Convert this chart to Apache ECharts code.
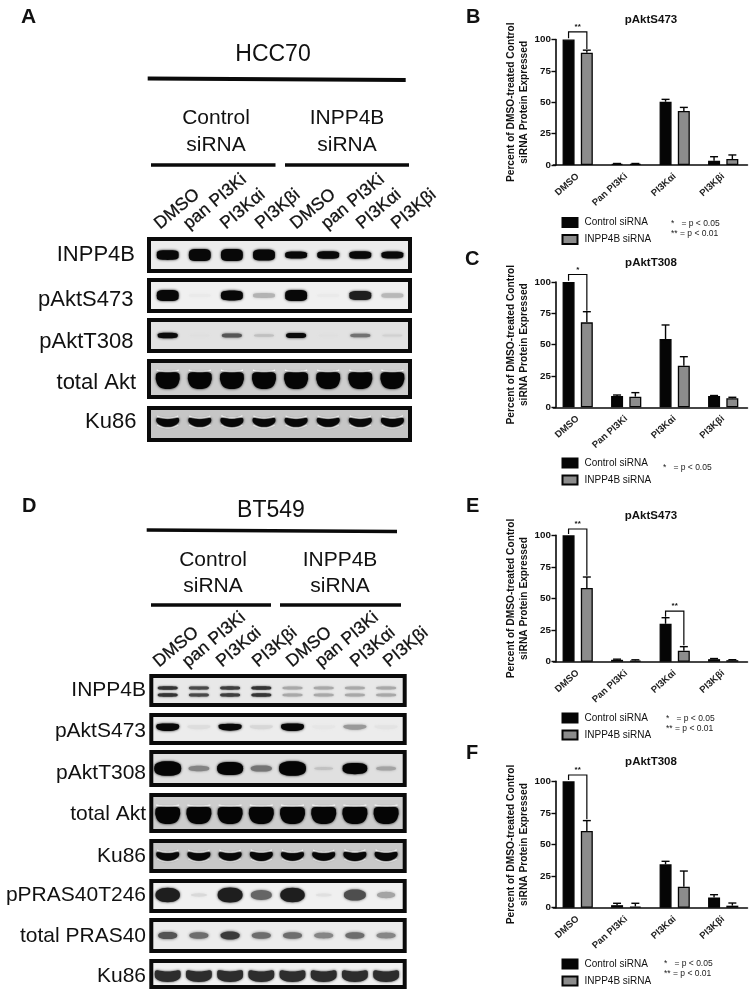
<!DOCTYPE html>
<html><head><meta charset="utf-8">
<style>html,body{margin:0;padding:0;background:#fff}#c{width:754px;height:998px}</style>
<script src="https://cdn.jsdelivr.net/npm/echarts@6/dist/echarts.min.js"></script>
</head><body><div id="c"></div>
<script>
// ---------- bar-chart data (percent of DMSO-treated control) ----------
const categories = ['DMSO', 'Pan PI3Ki', 'PI3K\u03b1i', 'PI3K\u03b2i'];
const seriesNames = ['Control siRNA', 'INPP4B siRNA'];
const bControl = [100, 1, 50.4, 3.4];
const bControlTop = [100, 1.2, 52.3, 6.6];
const bInpp4b = [89.4, 1, 43, 4.8];
const bInpp4bTop = [91.5, 1.2, 45.9, 8];
const cControl = [100, 9, 54.5, 9];
const cControlTop = [100, 9.8, 65.7, 9.4];
const cInpp4b = [67.8, 8.5, 33.2, 7.2];
const cInpp4bTop = [76.3, 11.7, 40.4, 8];
const eControl = [100, 1.5, 30, 2];
const eControlTop = [100, 2, 34.8, 2.5];
const eInpp4b = [58.3, 1, 8.7, 1.2];
const eInpp4bTop = [67, 1.5, 11.9, 1.6];
const fControl = [100, 2, 34.3, 8];
const fControlTop = [100, 3.5, 36.7, 10.3];
const fInpp4b = [60.7, 1, 16.6, 1.6];
const fInpp4bTop = [68.9, 3.5, 29, 3.7];
// significance brackets: category, top value, left foot, right foot, stars
const bBrackets = [[0, 106, 101, 92.5, '**']];
const cBrackets = [[0, 106, 101, 77, '*']];
const eBrackets = [[0, 105, 101, 68, '**'], [2, 40, 35.5, 13, '**']];
const fBrackets = [[0, 105, 101, 70, '**']];

// ---------- blot lanes and band intensities (0..1) ----------
const laneLabels = ['DMSO', 'pan PI3Ki', 'PI3K\u03b1i', 'PI3K\u03b2i', 'DMSO', 'pan PI3Ki', 'PI3K\u03b1i', 'PI3K\u03b2i'];
const hccInpp4b = [.75, 1, 1, .9, .45, .5, .5, .45];
const hccS473 = [1, .02, .85, .22, 1, .02, .75, .2];
const hccT308 = [.85, .01, .5, .12, .8, .01, .4, .06];
const hccAkt = [1, 1, 1, 1, 1, 1, 1, 1];
const hccKu86 = [.9, .9, 1, .9, .9, .9, .9, 1];
const btInpp4b = [.85, .75, .8, .85, .3, .3, .3, .3];
const btS473 = [1, .05, .8, .07, 1, .02, .28, .03];
const btT308 = [1, .3, .9, .35, 1, .1, .75, .2];
const btAkt = [1, 1, 1, 1, 1, 1, 1, 1];
const btKu86a = [.85, .85, .85, .95, .85, .85, 1, .95];
const btPras = [.95, .1, 1, .6, .95, .07, .7, .33];
const btTotalPras = [.6, .5, .7, .5, .5, .4, .5, .4];
const btKu86b = [.9, .9, 1, .9, .9, .9, .9, .9];

// ---------- layout and styling ----------
const FONT = '"Liberation Sans", Arial, sans-serif';
const grids = [], xAxes = [], yAxes = [], series = [], graphics = [], legends = [];

function txt(x, y, text, size, o) {
  o = o || {};
  graphics.push({ type: 'text', x, y, rotation: o.rot || 0, silent: true, style: {
    text, fontSize: size, fontFamily: FONT, fontWeight: o.bold ? 'bold' : 'normal',
    fill: o.fill || '#111', align: o.align || 'center', verticalAlign: o.va || 'middle',
    stroke: o.stroke ? '#111' : null, lineWidth: o.stroke || 0 } });
}
function rule(x1, y1, x2, y2, w) {
  graphics.push({ type: 'line', silent: true, shape: { x1, y1, x2, y2 }, style: { stroke: '#0a0a0a', lineWidth: w } });
}

// custom renderer of one blot band
function bandRenderer(st) {
  const n = st.n || 3.5;
  const taper = st.taper || 1;
  return function (params, api) {
    const p = api.coord([api.value(0), 0]);
    const v = api.value(2);
    if (v <= 0) return null;
    const cx = p[0], cy = p[1] + (st.dy || 0);
    const t = st.t0 + st.t1 * v;
    const w = st.w0 + (st.w1 || 0) * v;
    const k = Math.min(1, v * (st.k || 1));
    const g = Math.round(st.bg + (st.dark - st.bg) * k);
    const col = `rgb(${g},${g},${g})`;
    const children = [];
    const STEPS = 14;
    // outline of a rounded band: half thickness follows a superellipse, the centre line sags
    const outline = (o) => {
      const top = [], bot = [];
      for (let i = 0; i <= STEPS; i++) {
        const u = Math.sin((-1 + 2 * i / STEPS) * Math.PI / 2);
        const f = Math.pow(1 - Math.pow(Math.abs(u), n), 1 / n);
        const h = t / 2 * f;
        const sq = 1 - u * u;
        top.push([cx + u * w / 2, cy + o - h + (st.sagTop || 0) * sq]);
        bot.push([cx + u * w / 2 * (1 - (1 - taper) * f), cy + o + h + (st.sagBot || 0) * sq]);
      }
      return top.concat(bot.reverse());
    };
    const arc = (o, sag, gap) => {
      const pts = [];
      for (let i = 0; i <= STEPS; i++) {
        const u = -.92 + 1.84 * i / STEPS;
        pts.push([cx + u * w / 2, cy + o + gap + sag * (1 - u * u)]);
      }
      return pts;
    };
    (st.doublet ? [-3.5, 3.5] : [0]).forEach(o => {
      if (st.halo) children.push({ type: 'polyline', silent: true, shape: { points: arc(o, st.sagTop || 0, -t / 2 - 1) },
        style: { stroke: '#fff', lineWidth: 1.3, fill: null } });
      if (st.haloBot) children.push({ type: 'polyline', silent: true, shape: { points: arc(o, st.sagBot || 0, t / 2 + 1) },
        style: { stroke: '#fff', lineWidth: 1.2, fill: null } });
      children.push({ type: 'polygon', shape: { points: outline(o) },
        style: { fill: col, shadowBlur: st.blur == null ? 2.5 : st.blur, shadowColor: col } });
    });
    return { type: 'group', children };
  };
}

function blotRow(name, values, top, bottom, left, right, lane0, laneStep, labelSize, labelRight, labelY, st) {
  const gi = grids.length;
  const bw = 4;
  const L = left + bw / 2, R = right - bw / 2, T = top + bw / 2, B = bottom - bw / 2;
  const bgc = `rgb(${st.bg},${st.bg},${st.bg})`;
  grids.push({ show: true, left: L, top: T, width: R - L, height: B - T, backgroundColor: bgc, borderColor: '#0a0a0a', borderWidth: bw, z: 1 });
  xAxes.push({ gridIndex: gi, type: 'value', show: false, min: (L - lane0) / laneStep, max: (R - lane0) / laneStep, splitLine: { show: false } });
  yAxes.push({ gridIndex: gi, type: 'category', data: [name], show: false });
  series.push({ type: 'custom', name: 'blot ' + name, xAxisIndex: gi, yAxisIndex: gi, silent: true, clip: true, z: 3,
    encode: { x: 0, y: 1 }, data: values.map((v, i) => [i, 0, v]), renderItem: bandRenderer(st) });
  txt(labelRight, labelY, name, labelSize, { align: 'right' });
}

function barPanel(cfg) {
  const gi = grids.length;
  const step = 48.5;
  grids.push({ left: cfg.cx0 - step / 2, width: step * 4, top: cfg.top, height: cfg.zero - cfg.top });
  xAxes.push({ gridIndex: gi, type: 'category', data: categories,
    axisLine: { lineStyle: { color: '#0a0a0a', width: 1.6 } }, axisTick: { alignWithLabel: true, length: 4.5, lineStyle: { color: '#0a0a0a', width: 1.4 } },
    axisLabel: { rotate: 42, fontSize: 9.5, fontWeight: 'bold', fontFamily: FONT, color: '#222', margin: 10, interval: 0 } });
  yAxes.push({ gridIndex: gi, type: 'value', min: 0, max: 100, interval: 25, offset: -2.5,
    name: 'Percent of DMSO-treated Control\nsiRNA Protein Expressed', nameLocation: 'middle', nameGap: 24,
    nameTextStyle: { fontSize: 10.2, fontWeight: 'bold', fontFamily: FONT, color: '#111', lineHeight: 13 },
    splitLine: { show: false },
    axisLine: { show: true, lineStyle: { color: '#0a0a0a', width: 1.6 } }, axisTick: { show: true, length: 4.5, lineStyle: { color: '#0a0a0a', width: 1.4 } },
    axisLabel: { fontSize: 9.8, fontWeight: 'bold', fontFamily: FONT, color: '#111', margin: 5 } });
  const common = { type: 'bar', xAxisIndex: gi, yAxisIndex: gi, barWidth: 12, barGap: '52%', silent: true };
  series.push(Object.assign({}, common, { name: seriesNames[0], data: cfg.control, itemStyle: { color: '#050505', borderColor: '#050505', borderWidth: 1.3 } }));
  series.push(Object.assign({}, common, { name: seriesNames[1], data: cfg.inpp, itemStyle: { color: '#8c8c8c', borderColor: '#050505', borderWidth: 1.3 } }));
  const OFF = 9.15;
  const errRender = sign => (params, api) => {
    const base = api.coord([api.value(0), api.value(1)]);
    const tip = api.coord([api.value(0), api.value(2)]);
    const x = base[0] + sign * OFF;
    if (api.value(2) <= api.value(1)) return null;
    return { type: 'group', children: [
      { type: 'line', shape: { x1: x, y1: base[1], x2: x, y2: tip[1] }, style: { stroke: '#050505', lineWidth: 1.4 } },
      { type: 'line', shape: { x1: x - 4, y1: tip[1], x2: x + 4, y2: tip[1] }, style: { stroke: '#050505', lineWidth: 1.4 } }] };
  };
  [[cfg.control, cfg.controlTop, -1], [cfg.inpp, cfg.inppTop, 1]].forEach(a => {
    series.push({ type: 'custom', name: 'error', xAxisIndex: gi, yAxisIndex: gi, silent: true, z: 4, encode: { x: 0, y: 2 },
      data: a[0].map((v, i) => [i, v, a[1][i]]), renderItem: errRender(a[2]) });
  });
  series.push({ type: 'custom', name: 'significance', xAxisIndex: gi, yAxisIndex: gi, silent: true, z: 5, encode: { x: 0, y: 1 },
    data: cfg.brackets, clip: false,
    renderItem: (params, api) => {
      const c = api.value(0);
      const t = api.coord([c, api.value(1)]), l = api.coord([c, api.value(2)]), r = api.coord([c, api.value(3)]);
      const xl = t[0] - OFF, xr = t[0] + OFF;
      return { type: 'group', children: [
        { type: 'polyline', shape: { points: [[xl, l[1]], [xl, t[1]], [xr, t[1]], [xr, r[1]]] }, style: { stroke: '#050505', lineWidth: 1.2, fill: null } },
        { type: 'text', style: { x: t[0], y: t[1] - 1, text: cfg.brackets[params.dataIndex][4], fontSize: 8, fontWeight: 'bold', fontFamily: FONT, fill: '#111', align: 'center', verticalAlign: 'bottom' } }] };
    } });
  legends.push({ data: seriesNames, orient: 'vertical', left: 561.5, top: cfg.legendTop, icon: 'rect', itemWidth: 15, itemHeight: 9, itemGap: 6, selectedMode: false,
    padding: 0, textStyle: { fontSize: 10, fontFamily: FONT, color: '#111', padding: [0, 0, 0, 2] } });
  txt(651, cfg.titleY, cfg.title, 11.5, { bold: true });
  txt(cfg.letterX, cfg.letterY, cfg.letter, 20, { bold: true, align: 'left' });
  cfg.notes.forEach(n => txt(n[0], n[1], n[2], 8.5, { align: 'left', fill: '#222' }));
}

barPanel({ letter: 'B', letterX: 466, letterY: 17, title: 'pAktS473', titleY: 20, cx0: 577.7, top: 39.5, zero: 165, legendTop: 217,
  control: bControl, controlTop: bControlTop, inpp: bInpp4b, inppTop: bInpp4bTop, brackets: bBrackets,
  notes: [[671, 224, '*   = p < 0.05'], [671, 234, '** = p < 0.01']] });
barPanel({ letter: 'C', letterX: 465, letterY: 259, title: 'pAktT308', titleY: 263, cx0: 577.7, top: 282, zero: 407.3, legendTop: 457.5,
  control: cControl, controlTop: cControlTop, inpp: cInpp4b, inppTop: cInpp4bTop, brackets: cBrackets,
  notes: [[663, 468, '*   = p < 0.05']] });
barPanel({ letter: 'E', letterX: 466, letterY: 506, title: 'pAktS473', titleY: 516, cx0: 577.7, top: 535.3, zero: 661.7, legendTop: 712.5,
  control: eControl, controlTop: eControlTop, inpp: eInpp4b, inppTop: eInpp4bTop, brackets: eBrackets,
  notes: [[666, 719, '*   = p < 0.05'], [666, 729, '** = p < 0.01']] });
barPanel({ letter: 'F', letterX: 466, letterY: 753, title: 'pAktT308', titleY: 762, cx0: 577.7, top: 781.3, zero: 907.7, legendTop: 958.5,
  control: fControl, controlTop: fControlTop, inpp: fInpp4b, inppTop: fInpp4bTop, brackets: fBrackets,
  notes: [[664, 964, '*   = p < 0.05'], [664, 974, '** = p < 0.01']] });

// Panel A
txt(21, 17, 'A', 21, { bold: true, align: 'left' });
txt(273, 55, 'HCC70', 23);
rule(147.7, 78.5, 405.7, 80, 4);
txt(216, 118, 'Control', 21); txt(216, 145, 'siRNA', 21);
txt(347, 118, 'INPP4B', 21); txt(347, 145, 'siRNA', 21);
rule(151, 165, 275.5, 165, 3.5); rule(285, 165, 409, 165, 3.5);
[157, 186, 223, 258, 293, 324, 359, 394].forEach((x, i) => txt(x, 226, laneLabels[i], 17.5, { rot: 40 * Math.PI / 180, align: 'left', stroke: .3 }));

const A = [147, 412, 167.7, 32.1, 22];
blotRow('INPP4B', hccInpp4b, 237, 273, A[0], A[1], A[2], A[3], A[4], 135, 255, { bg: 236, dark: 8, t0: 3, t1: 9, w0: 22, k: 3 });
blotRow('pAktS473', hccS473, 278, 313, A[0], A[1], A[2], A[3], A[4], 133.5, 300, { bg: 240, dark: 8, t0: 3, t1: 8, w0: 22, k: 1.2 });
blotRow('pAktT308', hccT308, 318, 353, A[0], A[1], A[2], A[3], A[4], 133.5, 341.5, { bg: 226, dark: 10, t0: 2, t1: 4, w0: 20, k: 1.3 });
blotRow('total Akt', hccAkt, 359, 399, A[0], A[1], A[2], A[3], A[4], 136, 383, { bg: 205, dark: 5, t0: 15, t1: 1, w0: 24, sagTop: 1.5, sagBot: 2, halo: true, taper: .85, n: 4 });
blotRow('Ku86', hccKu86, 406, 442, A[0], A[1], A[2], A[3], A[4], 136.5, 421.5, { bg: 198, dark: 8, t0: 4, t1: 3, w0: 23, sagTop: 2.5, sagBot: 3.5, halo: true, haloBot: true, k: 2, dy: -4 });

// Panel D
txt(22, 506, 'D', 20, { bold: true, align: 'left' });
txt(271, 511, 'BT549', 23);
rule(146.7, 530, 397, 531.5, 3.5);
txt(213, 560, 'Control', 21); txt(213, 586, 'siRNA', 21);
txt(340, 560, 'INPP4B', 21); txt(340, 586, 'siRNA', 21);
rule(151, 605, 271, 605, 3.5); rule(280, 605, 401, 605, 3.5);
[156, 185, 219, 255, 289, 318, 353, 386].forEach((x, i) => txt(x, 664, laneLabels[i], 17.5, { rot: 40 * Math.PI / 180, align: 'left', stroke: .3 }));

const D = [149.3, 406.7, 167.7, 31.2, 21, 146];
blotRow('INPP4B', btInpp4b, 674, 707, D[0], D[1], D[2], D[3], D[4], D[5], 690, { bg: 232, dark: 20, t0: 2.5, t1: 1, w0: 20, doublet: true, dy: 1, blur: 2 });
blotRow('pAktS473', btS473, 713, 745, D[0], D[1], D[2], D[3], D[4], D[5], 731.5, { bg: 236, dark: 8, t0: 2.5, t1: 3.5, w0: 23, k: 1.3, dy: -2.5, sagBot: 1.5 });
blotRow('pAktT308', btT308, 750, 787, D[0], D[1], D[2], D[3], D[4], D[5], 773, { bg: 224, dark: 5, t0: 1.5, t1: 13, w0: 18, w1: 9, k: 1.4, n: 2.6 });
blotRow('total Akt', btAkt, 793, 833, D[0], D[1], D[2], D[3], D[4], D[5], 814, { bg: 205, dark: 5, t0: 15, t1: 1, w0: 25, sagBot: 2, sagTop: 1, halo: true, taper: .85, n: 4, dy: 1 });
blotRow('Ku86', btKu86a, 839, 873, D[0], D[1], D[2], D[3], D[4], D[5], 856, { bg: 200, dark: 8, t0: 3, t1: 4, w0: 23, sagTop: 2.5, sagBot: 3.5, halo: true, haloBot: true, k: 2, dy: -2 });
blotRow('pPRAS40T246', btPras, 879, 913, D[0], D[1], D[2], D[3], D[4], D[5], 895, { bg: 240, dark: 30, t0: 2, t1: 13, w0: 15, w1: 10, k: 1.1, dy: -1, n: 2.2 });
blotRow('total PRAS40', btTotalPras, 918, 953, D[0], D[1], D[2], D[3], D[4], D[5], 936, { bg: 236, dark: 40, t0: 3, t1: 7, w0: 19, k: 1.3, dy: 0, blur: 3, n: 2.4 });
blotRow('Ku86', btKu86b, 959, 989, D[0], D[1], D[2], D[3], D[4], D[5], 976, { bg: 240, dark: 45, t0: 9, t1: 2, w0: 26, sagTop: 3, sagBot: 2.5, k: 1.2, dy: 0, n: 4 });

const chart = echarts.init(document.getElementById('c'), null, { renderer: 'canvas' });
chart.setOption({
  animation: false, backgroundColor: '#fff', tooltip: { show: false },
  grid: grids, xAxis: xAxes, yAxis: yAxes, series, legend: legends, graphic: graphics
});
</script></body></html>
